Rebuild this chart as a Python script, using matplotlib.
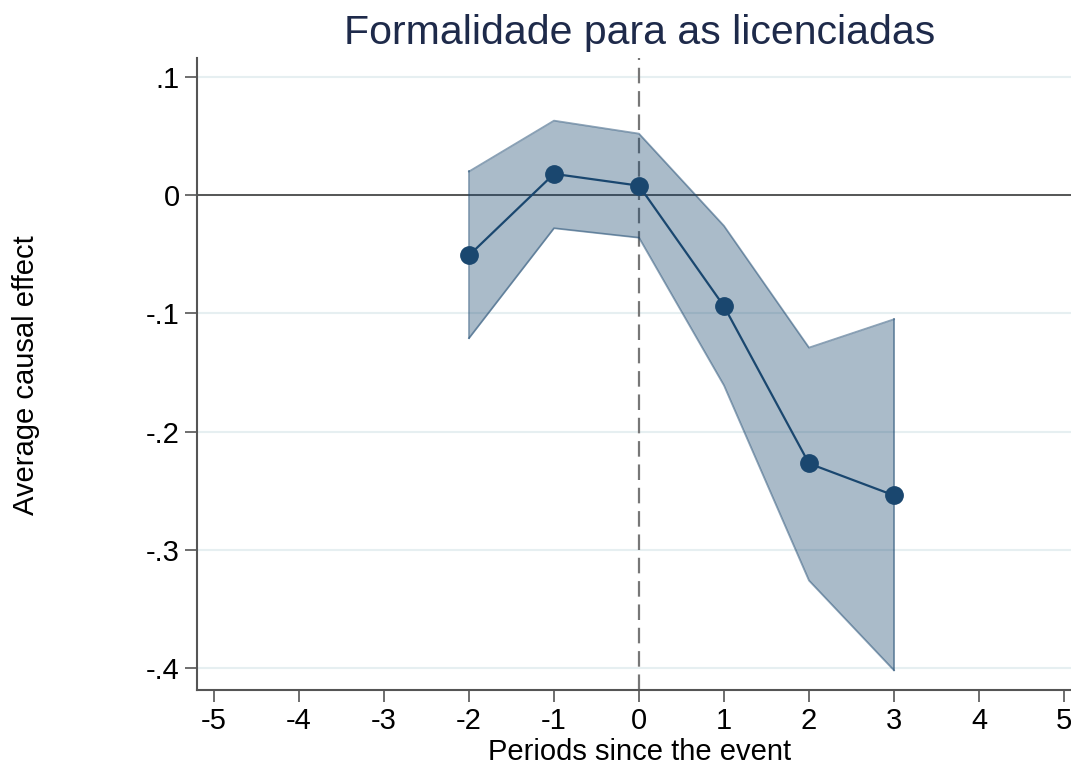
import matplotlib
matplotlib.use("Agg")
import matplotlib.pyplot as plt
import numpy as np

plt.rcParams['font.family'] = ['Liberation Sans', 'DejaVu Sans']

# event-study estimates and 95% band
periods = [-2, -1, 0, 1, 2, 3]
effect = [-0.051, 0.018, 0.008, -0.094, -0.227, -0.254]
ci_upper = [0.020, 0.063, 0.052, -0.026, -0.129, -0.105]
ci_lower = [-0.121, -0.028, -0.036, -0.161, -0.326, -0.402]

xticks = [-5, -4, -3, -2, -1, 0, 1, 2, 3, 4, 5]
yticks = [0.1, 0.0, -0.1, -0.2, -0.3, -0.4]
ytick_labels = [".1", "0", "-.1", "-.2", "-.3", "-.4"]

navy = "#1a476f"

fig = plt.figure(figsize=(10.71, 7.65), dpi=100)
ax = fig.add_axes([197/1071, 75/765, 884/1071, 632/765])

ax.set_xlim(-5.2, 5.2)
ax.set_ylim(-0.4186, 0.116)

# light horizontal grid
for y in yticks:
    ax.axhline(y, color="#e6eff1", lw=1.5, zorder=0)
ax.axhline(0, color="#555555", lw=1.4, zorder=1)
ax.axvline(0, color="#777777", lw=1.6, ls=(0, (7, 3.5)), zorder=1)

ax.fill_between(periods, ci_lower, ci_upper, color=navy, alpha=0.37,
                lw=0, zorder=2)
ax.plot(periods, ci_upper, color=navy, alpha=0.5, lw=1.3, zorder=2)
ax.plot(periods, ci_lower, color=navy, alpha=0.5, lw=1.3, zorder=2)
ax.plot([periods[0]] * 2, [ci_lower[0], ci_upper[0]], color=navy, alpha=0.5, lw=1.3)
ax.plot([periods[-1]] * 2, [ci_lower[-1], ci_upper[-1]], color=navy, alpha=0.5, lw=1.3)

ax.plot(periods, effect, color=navy, lw=1.6, marker="o", ms=12.5,
        mec=navy, mfc=navy, zorder=3)

ax.set_xticks(xticks)
ax.set_xticklabels([str(t) for t in xticks])
ax.set_yticks(yticks)
ax.set_yticklabels(ytick_labels)
ax.tick_params(axis="both", direction="out", length=8.5, width=1.2,
               color="#555555", labelsize=21, labelcolor="black")
ax.tick_params(axis="x", pad=4)
ax.tick_params(axis="y", pad=4)

for side in ["top", "right"]:
    ax.spines[side].set_visible(False)
for side in ["left", "bottom"]:
    ax.spines[side].set_color("#555555")
    ax.spines[side].set_linewidth(1.5)

fig.text(639.5/1071, 1 - 33/765, "Formalidade para as licenciadas",
         ha="center", va="center", fontsize=29.5, color="#1e2a4a")
fig.text(639.5/1071, 1 - 752/765, "Periods since the event",
         ha="center", va="center", fontsize=21)
fig.text(26/1071, 1 - 375/765, "Average causal effect",
         ha="center", va="center", rotation=90, fontsize=21)

fig.savefig("out.png", dpi=100)
